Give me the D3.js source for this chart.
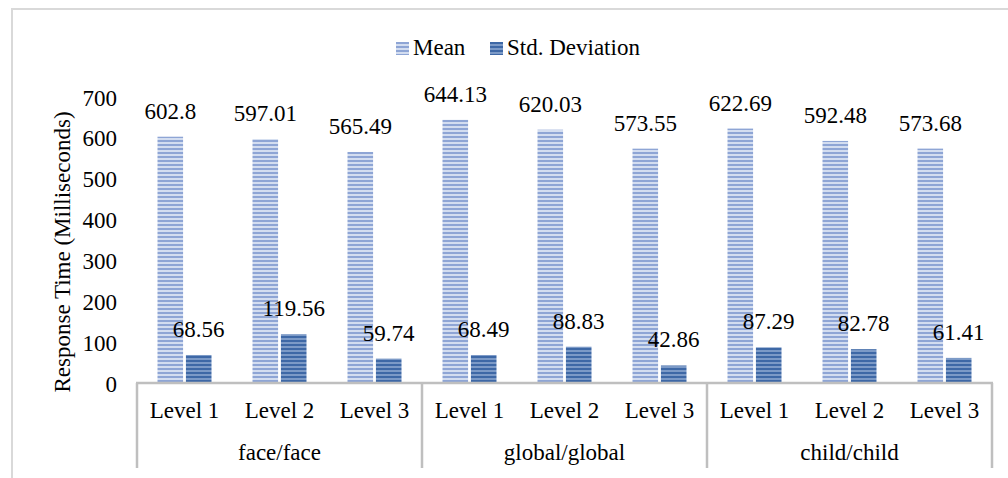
<!DOCTYPE html>
<html>
<head>
<meta charset="utf-8">
<script src="https://cdn.jsdelivr.net/npm/d3@7/dist/d3.min.js"></script>
<style>
  html, body { margin: 0; padding: 0; background: #fff; }
  svg { display: block; }
</style>
</head>
<body>
<svg id="chart" width="1008" height="478"></svg>
<script>
// Response times per condition and difficulty level
const groups = ["face/face", "global/global", "child/child"];
const levels = ["Level 1", "Level 2", "Level 3"];
const seriesNames = ["Mean", "Std. Deviation"];
const meanValues = [602.8, 597.01, 565.49, 644.13, 620.03, 573.55, 622.69, 592.48, 573.68];
const sdValues = [68.56, 119.56, 59.74, 68.49, 88.83, 42.86, 87.29, 82.78, 61.41];
const yTicks = [0, 100, 200, 300, 400, 500, 600, 700];

const FONT = "'Liberation Serif', Tinos, 'Times New Roman', 'DejaVu Serif', serif";
const fontSize = 23;

const svg = d3.select("#chart");

function label(sel) {
  return sel.style("font-family", FONT).style("font-size", fontSize + "px").style("fill", "#000");
}

// Horizontal-stripe fills for the two series
const defs = svg.append("defs");
function stripes(id, dark, light) {
  const p = defs.append("pattern")
    .attr("id", id).attr("patternUnits", "userSpaceOnUse")
    .attr("width", 8).attr("height", 4);
  p.append("rect").attr("width", 8).attr("height", 4).attr("fill", light);
  p.append("rect").attr("width", 8).attr("height", 2).attr("fill", dark);
}
stripes("pMean", "#8ea5d5", "#d3ddf0");
stripes("pSd", "#3e68a6", "#7c9ac7");
const fills = ["url(#pMean)", "url(#pSd)"];

// Chart frame
svg.append("rect")
  .attr("x", 12).attr("y", 9).attr("width", 1100).attr("height", 600)
  .attr("fill", "none").attr("stroke", "#d9d9d9").attr("stroke-width", 2);

const plot = { left: 137, right: 992, top: 97, bottom: 383 };

const y = d3.scaleLinear().domain([0, 700]).range([plot.bottom, plot.top]);

const categories = [];
groups.forEach(g => levels.forEach(l => categories.push(g + "|" + l)));

const x = d3.scaleBand().domain(categories)
  .range([plot.left, plot.right]).paddingInner(0).paddingOuter(0);
const inner = d3.scaleBand().domain(seriesNames)
  .range([20.5, x.bandwidth() - 20.5]).paddingInner(0.1);

const rows = categories.map((c, i) => ({ cat: c, values: [meanValues[i], sdValues[i]] }));

// Bars
const cat = svg.append("g").selectAll("g").data(rows).join("g")
  .attr("transform", d => `translate(${x(d.cat)},0)`);

cat.selectAll("rect").data(d => d.values.map((v, k) => ({ k, v })))
  .join("rect")
  .attr("x", d => inner(seriesNames[d.k]))
  .attr("width", inner.bandwidth())
  .attr("y", d => y(d.v))
  .attr("height", d => y(0) - y(d.v))
  .attr("fill", d => fills[d.k]);

// Value labels
cat.selectAll("text.val").data(d => d.values.map((v, k) => ({ k, v })))
  .join("text")
  .attr("class", "val")
  .attr("x", d => inner(seriesNames[d.k]) + inner.bandwidth() / 2)
  .attr("y", d => y(d.v) - 18)
  .attr("text-anchor", "middle")
  .call(label)
  .text(d => String(d.v));

// Y axis (labels only)
const yAxis = d3.axisLeft(y).tickValues(yTicks).tickSize(0).tickPadding(0);
const yg = svg.append("g").attr("transform", "translate(117,0)").call(yAxis);
yg.select(".domain").remove();
yg.selectAll("text").call(label).attr("dy", "0.35em");

svg.append("text")
  .attr("transform", `translate(70,${(plot.top + plot.bottom) / 2 + 12}) rotate(-90)`)
  .attr("text-anchor", "middle")
  .call(label)
  .text("Response Time (Milliseconds)");

// Category axis: baseline, group separators, level and group labels
const axisColor = "#bfbfbf";
svg.append("line")
  .attr("x1", plot.left - 1).attr("x2", plot.right + 1)
  .attr("y1", plot.bottom).attr("y2", plot.bottom)
  .attr("stroke", axisColor).attr("stroke-width", 2.5);

const groupScale = d3.scaleBand().domain(groups).range([plot.left, plot.right]);
const sepX = groups.map(g => groupScale(g)).concat([plot.right]);
svg.append("g").selectAll("line").data(sepX).join("line")
  .attr("x1", d => d).attr("x2", d => d)
  .attr("y1", plot.bottom).attr("y2", 468)
  .attr("stroke", axisColor).attr("stroke-width", 2.5);

svg.append("g").selectAll("text").data(categories).join("text")
  .attr("x", d => x(d) + x.bandwidth() / 2)
  .attr("y", 418)
  .attr("text-anchor", "middle")
  .call(label)
  .text(d => d.split("|")[1]);

svg.append("g").selectAll("text").data(groups).join("text")
  .attr("x", d => groupScale(d) + groupScale.bandwidth() / 2)
  .attr("y", 460)
  .attr("text-anchor", "middle")
  .call(label)
  .text(d => d);

// Legend
const legendItems = [
  { name: seriesNames[0], x: 396 },
  { name: seriesNames[1], x: 490 }
];
const lg = svg.append("g").selectAll("g").data(legendItems).join("g")
  .attr("transform", d => `translate(${d.x},42)`);
lg.append("rect").attr("width", 13).attr("height", 13)
  .attr("fill", (d, i) => fills[i]);
lg.append("text").attr("x", 17).attr("y", 13)
  .call(label)
  .text(d => d.name);
</script>
</body>
</html>
